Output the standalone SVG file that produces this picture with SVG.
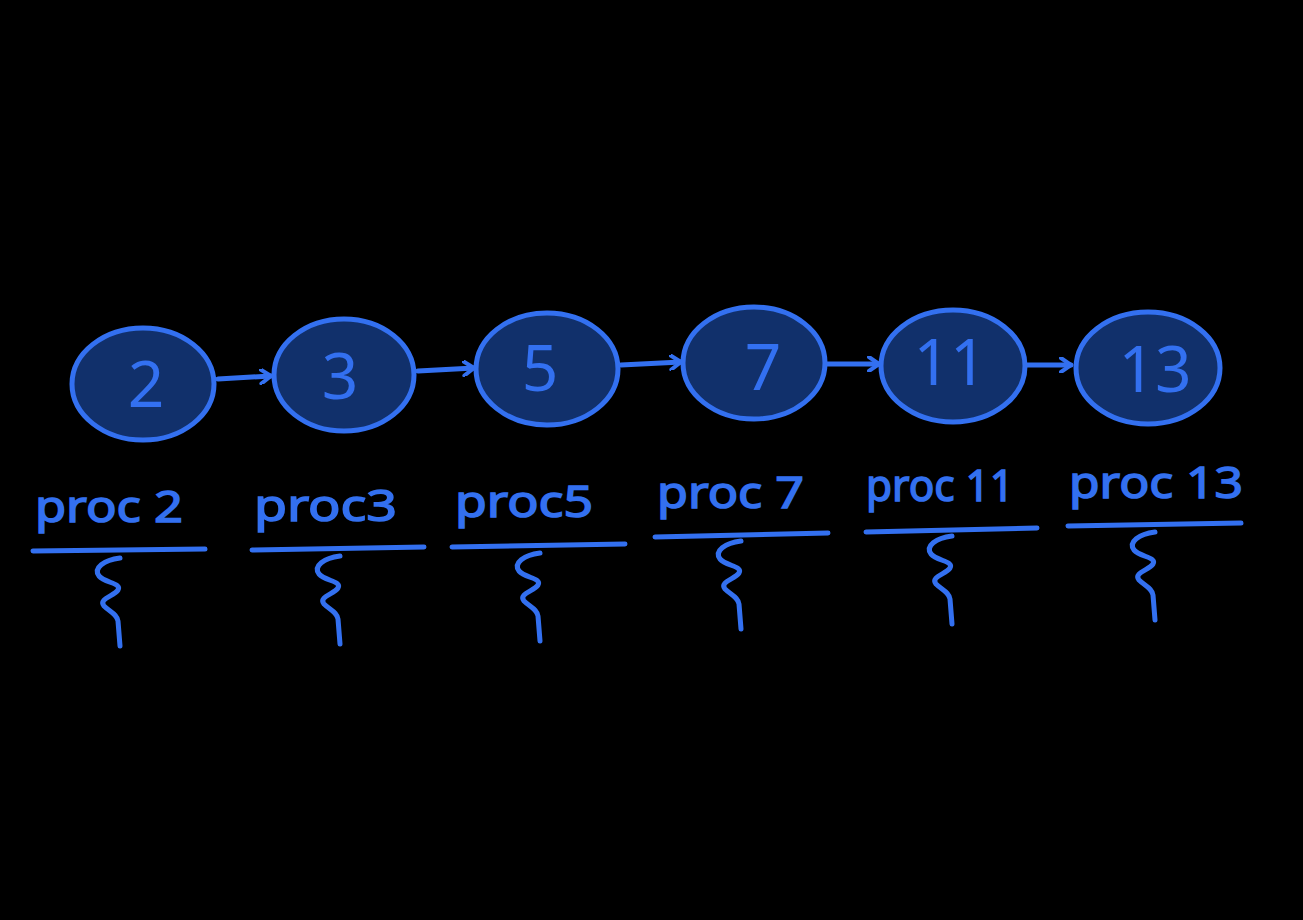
<svg xmlns="http://www.w3.org/2000/svg" width="1303" height="920" viewBox="0 0 1303 920">
<style>
.bg{fill:#000}
.node{fill:#11306b;stroke:#3370f0;stroke-width:5}
.num{fill:#3370f0;font-family:"Noto Sans","Liberation Sans",sans-serif;font-size:64px;text-anchor:middle}
.lbl{fill:#3370f0;stroke:#3370f0;stroke-width:1.5;font-family:"Noto Sans","Liberation Sans",sans-serif;font-size:44px}
.ln{fill:none;stroke:#3370f0;stroke-width:5;stroke-linecap:round;stroke-linejoin:round}
</style>
<defs>
<marker id="ah" viewBox="0 0 14 16" refX="12" refY="8" markerWidth="14" markerHeight="16" markerUnits="userSpaceOnUse" orient="auto">
<path d="M2,1 L12,8 L2,15" fill="none" stroke="#3370f0" stroke-width="4" stroke-linecap="round" stroke-linejoin="round"/>
</marker>
<path id="sq" d="M0,0 C-16,2 -27,10 -21,18 C-15,25 2,25 -2,32 C-6,38 -22,41 -16,48 C-10,54 -3,56 -2,63 L0,88"/>
</defs>
<rect class="bg" x="0" y="0" width="1303" height="920"/>
<g id="connectors">
<path class="ln" d="M218,379 L271,376" marker-end="url(#ah)"/>
<path class="ln" d="M418,371 L474,368" marker-end="url(#ah)"/>
<path class="ln" d="M621,365 L681,362" marker-end="url(#ah)"/>
<path class="ln" d="M824,364 L879,364" marker-end="url(#ah)"/>
<path class="ln" d="M1027,365 L1071,365" marker-end="url(#ah)"/>
</g>
<g id="n2"><ellipse class="node" cx="143" cy="384" rx="71" ry="56"/><text class="num" x="146" y="407">2</text></g>
<g id="n3"><ellipse class="node" cx="344" cy="375" rx="70" ry="56"/><text class="num" x="340" y="399">3</text></g>
<g id="n5"><ellipse class="node" cx="547" cy="369" rx="71" ry="56"/><text class="num" x="540" y="391">5</text></g>
<g id="n7"><ellipse class="node" cx="754" cy="363" rx="71" ry="56"/><text class="num" x="763" y="390">7</text></g>
<g id="n11"><ellipse class="node" cx="953" cy="366" rx="72" ry="56"/><text class="num" x="950" y="385">11</text></g>
<g id="n13"><ellipse class="node" cx="1148" cy="368" rx="72" ry="56"/><text class="num" x="1155" y="392">13</text></g>
<g id="p2"><text class="lbl" x="35" y="522" textLength="148" lengthAdjust="spacingAndGlyphs">proc 2</text><path class="ln" d="M33,551 L205,549"/><use href="#sq" class="ln" transform="translate(120,558)"/></g>
<g id="p3"><text class="lbl" x="254" y="521" textLength="143" lengthAdjust="spacingAndGlyphs">proc3</text><path class="ln" d="M252,550 L424,547"/><use href="#sq" class="ln" transform="translate(340,556)"/></g>
<g id="p5"><text class="lbl" x="455" y="517" textLength="138" lengthAdjust="spacingAndGlyphs">proc5</text><path class="ln" d="M452,547 L625,544"/><use href="#sq" class="ln" transform="translate(540,553)"/></g>
<g id="p7"><text class="lbl" x="657" y="508" textLength="147" lengthAdjust="spacingAndGlyphs">proc 7</text><path class="ln" d="M655,537 L828,533"/><use href="#sq" class="ln" transform="translate(741,541)"/></g>
<g id="p11"><text class="lbl" x="866" y="501" textLength="148" lengthAdjust="spacingAndGlyphs">proc 11</text><path class="ln" d="M866,532 L1037,528"/><use href="#sq" class="ln" transform="translate(952,536)"/></g>
<g id="p13"><text class="lbl" x="1069" y="498" textLength="174" lengthAdjust="spacingAndGlyphs">proc 13</text><path class="ln" d="M1068,526 L1241,523"/><use href="#sq" class="ln" transform="translate(1155,532)"/></g>
</svg>
